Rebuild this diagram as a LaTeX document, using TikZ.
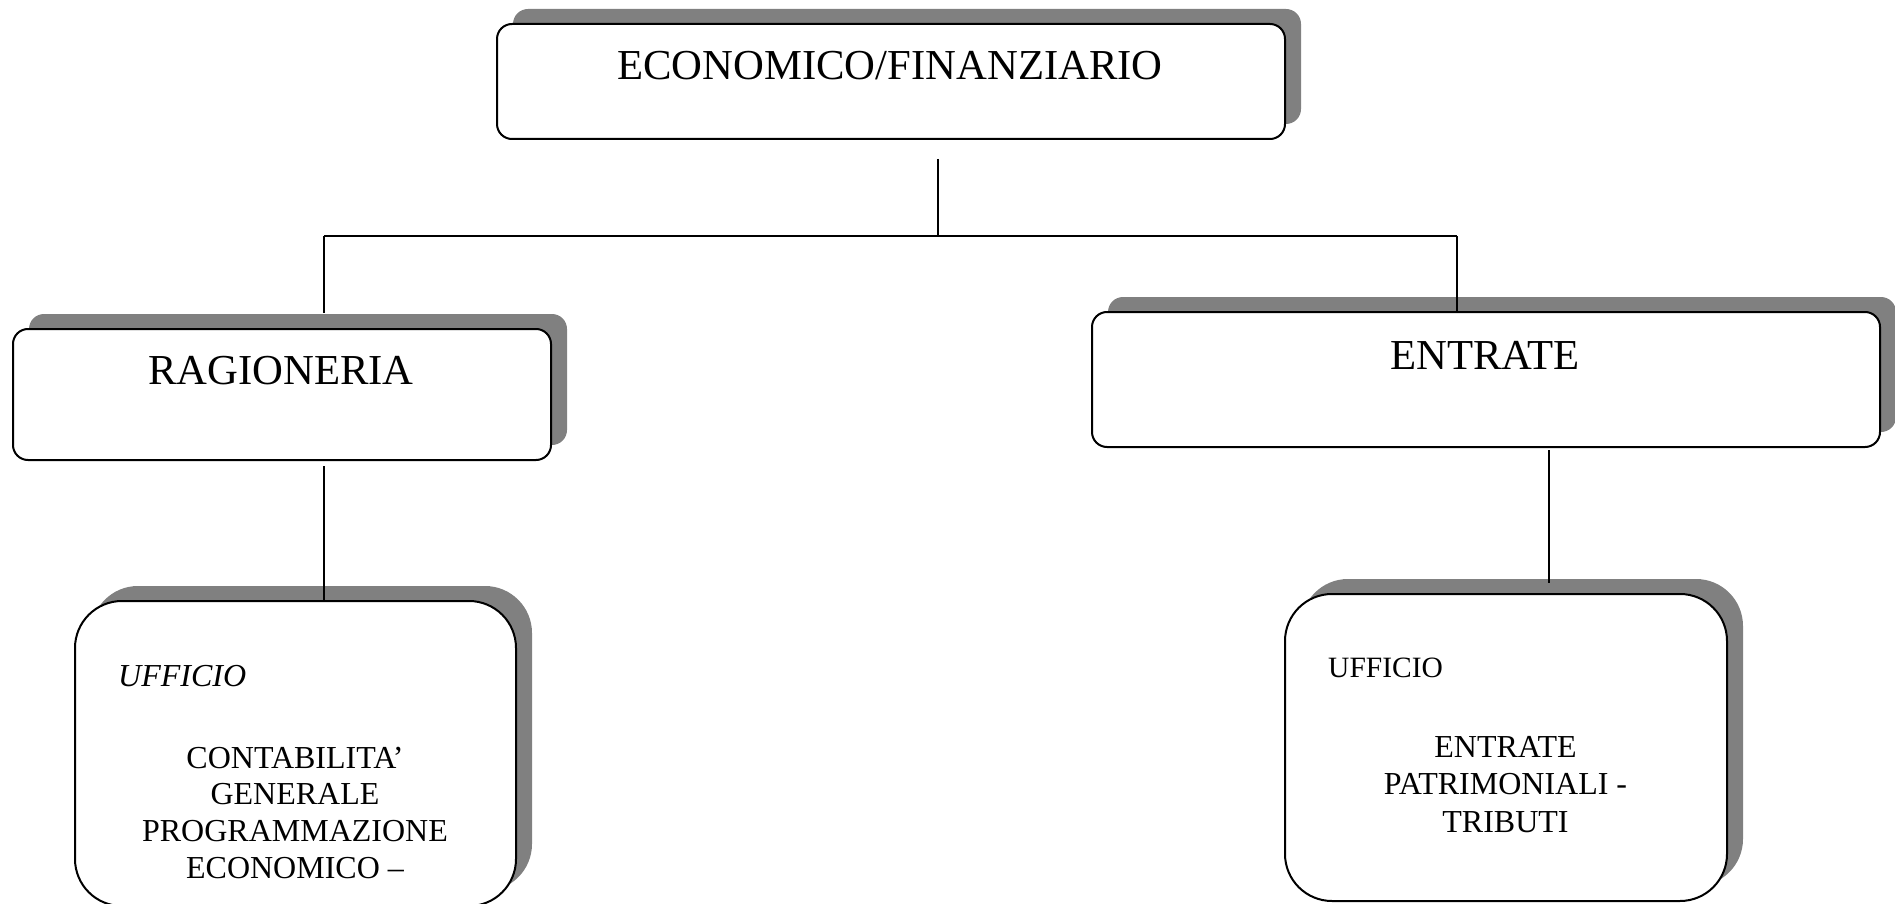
\documentclass[tikz,border=0pt]{standalone}
\usepackage{fontspec}
\setmainfont{Liberation Serif}
\usetikzlibrary{shadows,calc}
\begin{document}
\begin{tikzpicture}[x=1pt,y=-1pt,
  box/.style={draw=black, line width=2pt, fill=white, rectangle, inner sep=0pt,
    drop shadow={shadow xshift=16pt, shadow yshift=15pt, fill=shadowgray, opacity=1}},
  smallr/.style={box, rounded corners=15pt},
  bigr/.style={box, rounded corners=47pt},
  conn/.style={draw=black, line width=2pt},
  bigtxt/.style={anchor=base, inner sep=0pt, font=\fontsize{42.7}{48}\selectfont},
  midtxt/.style={anchor=base, inner sep=0pt, font=\fontsize{32}{37}\selectfont},
]
\definecolor{shadowgray}{HTML}{808080}
\useasboundingbox (0,0) rectangle (1895,904);

% boxes
\node[smallr, minimum width=788pt, minimum height=115pt] (top) at (891,81.5) {};
\node[smallr, minimum width=538pt, minimum height=131pt] (rag) at (282,394.5) {};
\node[smallr, minimum width=788pt, minimum height=135pt] (ent) at (1486,379.5) {};
\node[bigr, minimum width=441pt, minimum height=305pt] (bl) at (295.5,753.5) {};
\node[bigr, minimum width=442pt, minimum height=307pt] (br) at (1506,747.5) {};

% texts
\node[bigtxt] (ttop) at (890,80) {ECONOMICO/FINANZIARIO};
\node[bigtxt] (trag) at (281,384) {RAGIONERIA};
\node[bigtxt] (tent) at (1485,369) {ENTRATE};

\node[midtxt, anchor=base west] (bl0) at (118,686) {\itshape UFFICIO};
\node[midtxt] (bl1) at (295,768) {CONTABILITA’};
\node[midtxt] (bl2) at (295,804.5) {GENERALE};
\node[midtxt] (bl3) at (295,841) {PROGRAMMAZIONE};
\node[midtxt] (bl4) at (295,878) {ECONOMICO –};

\node[anchor=base west, inner sep=0pt, font=\fontsize{29.5}{36}\selectfont] (br0) at (1328,677) {UFFICIO};
\node[midtxt] (br1) at (1505.5,757) {ENTRATE};
\node[midtxt] (br2) at (1505.5,794) {PATRIMONIALI -};
\node[midtxt] (br3) at (1505.5,832) {TRIBUTI};

% connectors
\coordinate (jm) at (938,236);
\coordinate (jl) at (324,236);
\coordinate (jr) at (1457,236);
\coordinate (ex) at (1549,450);
\draw[conn] ($(jm |- top.south)+(0,19)$) -- (jm);
\draw[conn] (jl) -- (jr);
\draw[conn] (jl) -- ($(jl |- rag.north)+(0,-15)$);
\draw[conn] (jr) -- (jr |- ent.north);
\draw[conn] ($(jl |- rag.south)+(0,5)$) -- (jl |- bl.north);
\draw[conn] (ex) -- ($(ex |- br.north)+(0,-10)$);
\end{tikzpicture}
\end{document}
